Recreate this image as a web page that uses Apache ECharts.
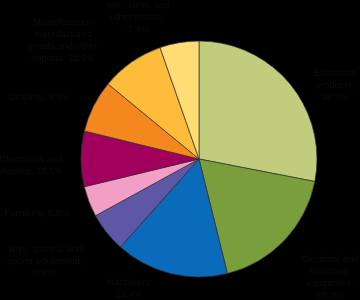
<!DOCTYPE html>
<html>
<head>
<meta charset="utf-8">
<script src="https://cdn.jsdelivr.net/npm/echarts@6/dist/echarts.min.js"></script>
<style>
html,body{margin:0;padding:0;background:#000;}
#c{width:360px;height:300px;}
</style>
</head>
<body>
<div id="c"></div>
<script>
const categories = [
  "Electronic\nproducts,\n38.8%",
  "Electrical and\nelectronic\nequipment,\n25.0%",
  "Machinery,\n21.4%",
  "Toys, games, and\nsports equipment,\n7.5%",
  "Furniture, 5.8%",
  "Chemicals and\nplastics, 10.5%",
  "Clothing, 9.9%",
  "Miscellaneous\nmanufactured\ngoods and other\nimports, 12.0%",
  "Iron, steel, and\nother metals,\n7.4%"
];
const values = [38.8, 25.0, 21.4, 7.5, 5.8, 10.5, 9.9, 12.0, 7.4];
const colors = ["#c1cc7c", "#7a9e3c", "#0b6bbb", "#5d57a5", "#f29fc8", "#a1005c", "#f5871f", "#fdbd3b", "#ffdc74"];
const labelPos = [
  [335, 85, 'center'],
  [330, 277, 'center'],
  [129, 288, 'center'],
  [45, 261, 'center'],
  [37, 213, 'center'],
  [31, 165, 'center'],
  [39, 97, 'center'],
  [63, 40, 'center'],
  [138, 17, 'center']
];
const chart = echarts.init(document.getElementById('c'), null, {renderer: 'canvas'});
chart.setOption({
  animation: false,
  backgroundColor: 'transparent',
  series: [{
    type: 'pie',
    center: [199, 159],
    radius: 118,
    startAngle: 90,
    clockwise: true,
    data: categories.map((n, i) => ({name: n, value: values[i], itemStyle: {color: colors[i]}})),
    itemStyle: {borderColor: '#333', borderWidth: 0.7},
    label: {
      show: true,
      position: 'outside',
      formatter: '{b}',
      color: '#0c0c0c',
      fontFamily: 'Liberation Sans, Arial, sans-serif',
      fontSize: 9.5,
      lineHeight: 12,
      overflow: 'none',
      width: null
    },
    labelLine: {show: false},
    labelLayout: function (p) {
      const lp = labelPos[p.dataIndex];
      return {x: lp[0], y: lp[1], align: lp[2], verticalAlign: 'middle', hideOverlap: false, moveOverlap: null};
    },
    emphasis: {disabled: true}
  }]
});
</script>
</body>
</html>
